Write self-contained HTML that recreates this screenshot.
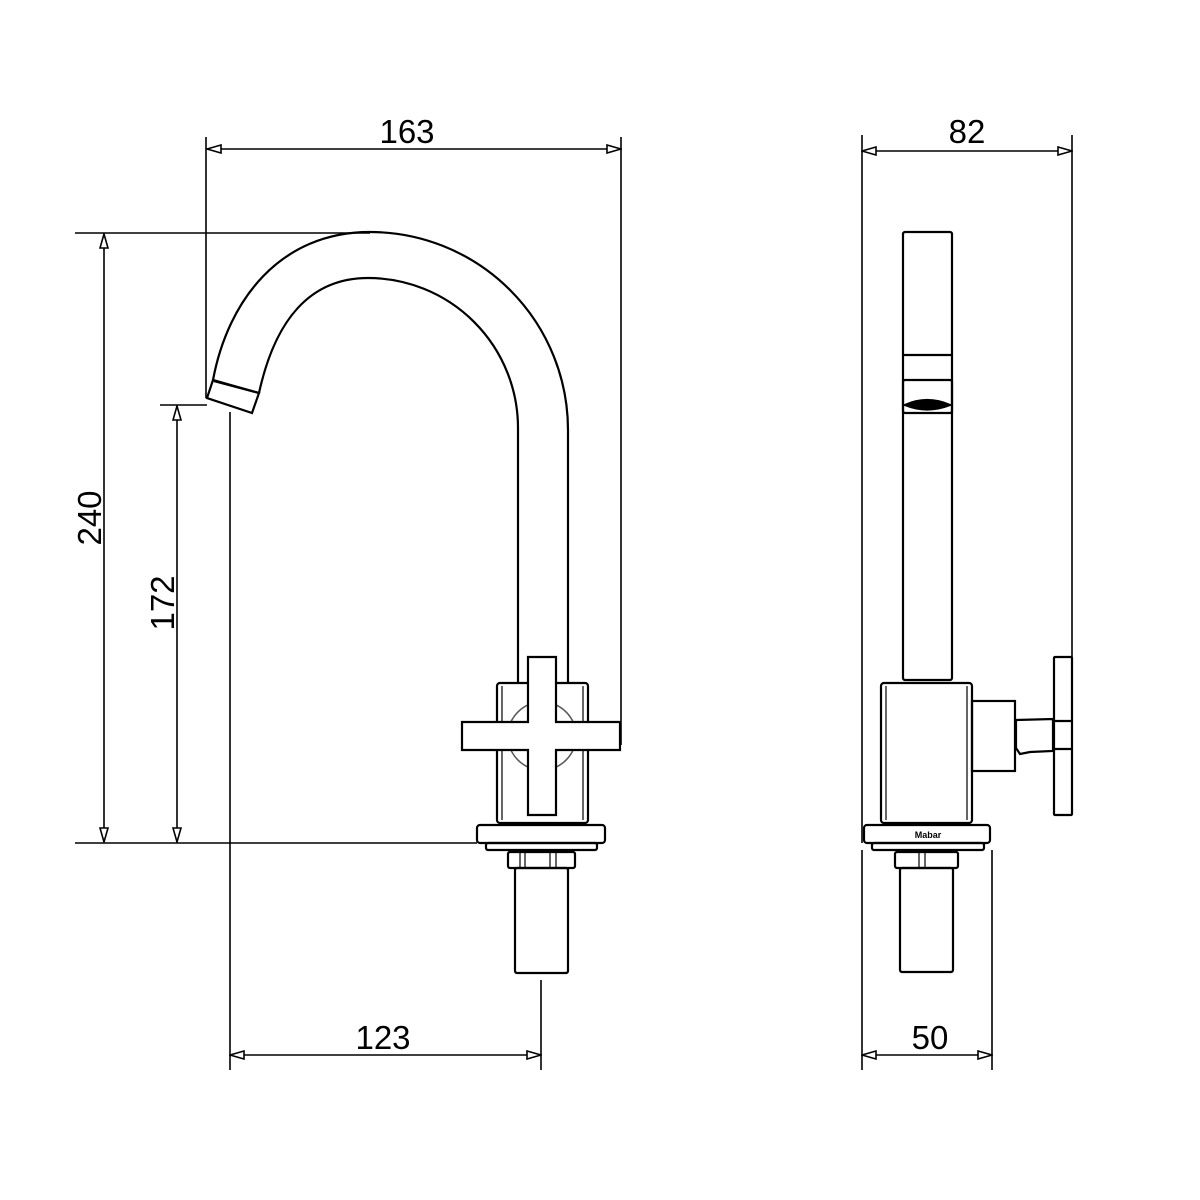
<!DOCTYPE html>
<html><head><style>html,body{margin:0;padding:0;background:#fff}svg{display:block}</style></head>
<body>
<svg width="1200" height="1200" viewBox="0 0 1200 1200" xmlns="http://www.w3.org/2000/svg">
<defs>
<marker id="a" viewBox="0 0 16 10" refX="15" refY="5" markerWidth="16" markerHeight="10" markerUnits="userSpaceOnUse" orient="auto-start-reverse">
<path d="M15,5 L1,1 L1,9 Z" fill="#fff" stroke="#000" stroke-width="1.6"/>
</marker>
</defs>
<g fill="none" stroke="#000" stroke-width="2.2">
<g stroke-width="1.6">
<line x1="207" y1="149" x2="621" y2="149" marker-start="url(#a)" marker-end="url(#a)"/>
<line x1="206" y1="137" x2="206" y2="398"/>
<line x1="621" y1="137" x2="621" y2="745"/>
<line x1="104" y1="234" x2="104" y2="842" marker-start="url(#a)" marker-end="url(#a)"/>
<line x1="75" y1="233" x2="370" y2="233"/>
<line x1="75" y1="843" x2="477" y2="843"/>
<line x1="177" y1="406" x2="177" y2="842" marker-start="url(#a)" marker-end="url(#a)"/>
<line x1="160" y1="405" x2="207" y2="405"/>
<line x1="230" y1="1055" x2="541" y2="1055" marker-start="url(#a)" marker-end="url(#a)"/>
<line x1="230" y1="412" x2="230" y2="1070"/>
<line x1="541" y1="980" x2="541" y2="1070"/>
<line x1="862" y1="151" x2="1072" y2="151" marker-start="url(#a)" marker-end="url(#a)"/>
<line x1="862" y1="135" x2="862" y2="843"/>
<line x1="1072" y1="135" x2="1072" y2="660"/>
<line x1="862" y1="1055" x2="992" y2="1055" marker-start="url(#a)" marker-end="url(#a)"/>
<line x1="862" y1="850" x2="862" y2="1070"/>
<line x1="992" y1="850" x2="992" y2="1070"/>
</g>
<path d="M213,380 C228,300 280,232 370,232 A198,198 0 0 1 568,430 L568,682"/>
<path d="M259,393 C275,320 310,278 368,278 A150,150 0 0 1 518,428 L518,682"/>
<path d="M213,380 L207,398 L252,413 L259,393 Z"/>
<line x1="214" y1="381" x2="259" y2="393"/>
<circle cx="542" cy="736" r="34" stroke="#555" stroke-width="1.5"/>
<rect x="497" y="683" width="91" height="140" rx="3" fill="none"/>
<line x1="502" y1="686" x2="502" y2="820" stroke-width="1.2"/>
<line x1="583" y1="686" x2="583" y2="820" stroke-width="1.2"/>
<path d="M528,657 H556 V722 H620 V750 H556 V815 H528 V750 H462 V722 H528 Z" fill="#fff"/>
<rect x="477" y="825" width="128" height="18" rx="3" fill="#fff"/>
<rect x="486" y="843" width="111" height="7" rx="2"/>
<rect x="508" y="852" width="67" height="16" rx="2"/>
<line x1="520" y1="852" x2="520" y2="868" stroke-width="1.2"/>
<line x1="525" y1="852" x2="525" y2="868" stroke-width="1.2"/>
<line x1="550" y1="852" x2="550" y2="868" stroke-width="1.2"/>
<line x1="556" y1="852" x2="556" y2="868" stroke-width="1.2"/>
<rect x="515" y="868" width="53" height="105" rx="2"/>
<rect x="903" y="232" width="49" height="448" rx="2"/>
<line x1="903" y1="355" x2="952" y2="355"/>
<rect x="903" y="380" width="49" height="33" rx="2"/>
<path d="M905,405 Q927,395 950,405 Q927,414 905,405 Z" fill="#000"/>
<rect x="881" y="683" width="91" height="140" rx="3" fill="#fff"/>
<line x1="886" y1="686" x2="886" y2="820" stroke-width="1.2"/>
<line x1="967" y1="686" x2="967" y2="820" stroke-width="1.2"/>
<rect x="972" y="701" width="43" height="70"/>
<path d="M1016,720 L1053,719 L1053,751 L1030,752 L1020,754 L1016,748 Z"/>
<rect x="1054" y="657" width="18" height="158" rx="1" fill="#fff"/>
<line x1="1054" y1="721" x2="1072" y2="721"/>
<line x1="1054" y1="749" x2="1072" y2="749"/>
<rect x="864" y="825" width="126" height="18" rx="3" fill="#fff"/>
<rect x="872" y="843" width="112" height="7" rx="2"/>
<rect x="895" y="852" width="63" height="16" rx="2"/>
<line x1="919" y1="852" x2="919" y2="868" stroke-width="1.2"/>
<line x1="925" y1="852" x2="925" y2="868" stroke-width="1.2"/>
<rect x="900" y="868" width="53" height="104" rx="2"/>
</g>
<g font-family="Liberation Sans, sans-serif" font-size="33" fill="#000" text-anchor="middle">
<text x="407" y="143">163</text>
<text x="967" y="143">82</text>
<text x="383" y="1049">123</text>
<text x="930" y="1049">50</text>
<text transform="translate(101,518) rotate(-90)">240</text>
<text transform="translate(174,603) rotate(-90)">172</text>
<text x="928" y="838" font-size="9" font-weight="bold">Mabar</text>
</g>
</svg>
</body></html>
